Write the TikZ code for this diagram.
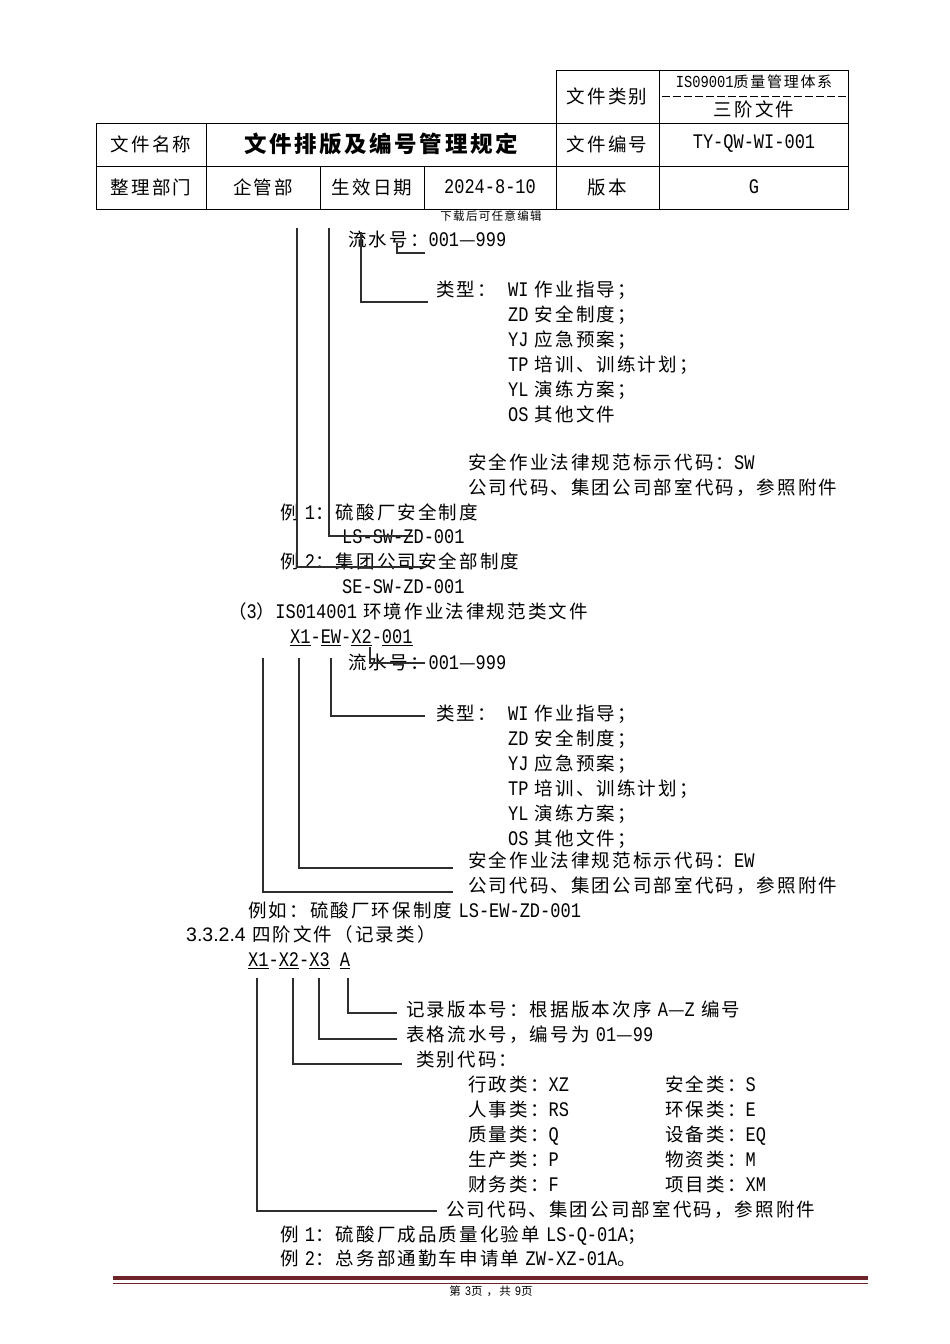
\documentclass[tikz,border=0pt]{standalone}
\usepackage{fontspec}
\setmainfont{Noto Sans CJK SC}[LetterSpace=11.5]
\newfontfamily\enfont{Liberation Mono}[Scale=1.12, FakeStretch=0.82]
\newfontfamily\numfont{Liberation Sans}
\usepackage{tikz}
\usetikzlibrary{positioning}
\definecolor{footred}{HTML}{6E2429}
\definecolor{leadgray}{HTML}{2E2E2E}
\newcommand\asc[1]{{\enfont #1}}
\tikzset{
  cell/.style ={inner sep=0pt, align=center},
  txt/.style  ={anchor=west, inner sep=0pt, text height=16pt, text depth=2.5pt},
  grid/.style ={line width=0.9pt},
  lead/.style ={line width=1.3pt, draw=leadgray},
  tiny/.style ={font=\fontsize{11.5}{13}\selectfont},
}

\begin{document}
\begin{tikzpicture}[x=1pt, y=-1pt, font=\fontsize{18.5}{20}\selectfont]
\fill[white] (0,0) rectangle (950,1344);
\useasboundingbox (0,0) rectangle (950,1344);

% header table
\draw[grid] (556,70) rectangle (848,123);
\draw[grid] (96,123) rectangle (848,209);
\draw[grid] (96,166) -- (848,166);
\draw[grid] (659,70) -- (659,209);
\draw[grid] (556,123) -- (556,209);
\draw[grid] (206,123) -- (206,209);
\draw[grid] (320,166) -- (320,209);
\draw[grid] (424,166) -- (424,209);
\draw[grid, dash pattern=on 8pt off 3pt] (662,96) -- (848,96);

\node[cell] (kind) at (607,96) {文件类别};
\node[cell, font=\fontsize{15}{17}\selectfont] (sys) at (754,82) {\asc{IS09001}质量管理体系};
\node[cell] (lvl) at (754,109) {三阶文件};
\node[cell] (fname) at (151,144) {文件名称};
\node[cell, font=\fontsize{22.5}{24}\selectfont\bfseries] (title) at (381,144) {文件排版及编号管理规定};
\node[cell] (fno) at (607,144) {文件编号};
\node[cell] (fnov) at (754,144) {\asc{TY-QW-WI-001}};
\node[cell] (dept) at (151,187) {整理部门};
\node[cell] (deptv) at (263,187) {企管部};
\node[cell] (eff) at (372,187) {生效日期};
\node[cell] (effv) at (490,187) {\asc{2024-8-10}};
\node[cell] (ver) at (607,187) {版本};
\node[cell] (verv) at (754,187) {\asc{G}};
\node[cell, tiny] (note) at (491,216) {下载后可任意编辑};

% continued from previous page
\node[txt] (flow1) at (348,240) {流水号：\asc{001}—\asc{999}};
\node[txt] (typ1) at (436,290) {类型：};
\node[txt] (wi1) at (508,290) {\asc{WI} 作业指导；};
\node[txt, below=6pt of wi1.south west, anchor=north west] (zd1) {\asc{ZD} 安全制度；};
\node[txt, below=6pt of zd1.south west, anchor=north west] (yj1) {\asc{YJ} 应急预案；};
\node[txt, below=6pt of yj1.south west, anchor=north west] (tp1) {\asc{TP} 培训、训练计划；};
\node[txt, below=6pt of tp1.south west, anchor=north west] (yl1) {\asc{YL} 演练方案；};
\node[txt, below=6pt of yl1.south west, anchor=north west] (os1) {\asc{OS} 其他文件};
\node[txt] (sw1) at (468,463) {安全作业法律规范标示代码：\asc{SW}};
\node[txt, below=6pt of sw1.south west, anchor=north west] (co1) {公司代码、集团公司部室代码，参照附件};
\node[txt] (ex1a) at (280,513) {例 \asc{1}：硫酸厂安全制度};
\node[txt] (ex1b) at (342,537) {\asc{LS-SW-ZD-001}};
\node[txt] (ex2a) at (280,562) {例 \asc{2}：集团公司安全部制度};
\node[txt] (ex2b) at (342,587) {\asc{SE-SW-ZD-001}};

\coordinate (a1) at (297,228);
\coordinate (a1e) at (425,567);
\coordinate (a2) at (329,228);
\coordinate (a2e) at (413,536);
\coordinate (a3) at (361,232);
\coordinate (a4) at (397,243);
\coordinate (a4e) at (425,253);
\draw[lead] (a1) |- (a1e);
\draw[lead] (a2) |- (a2e);
\draw[lead] (a3) |- ([shift={(-8pt,-12pt)}]typ1.west);
\draw[lead] (a4) |- (a4e);

% (3) ISO14001
\node[txt] (sec3) at (228,612) {（\asc{3}）\asc{IS014001} 环境作业法律规范类文件};
\node[txt] (code2) at (290,637) {\asc{\underline{X1}-\underline{EW}-\underline{X2}-\underline{001}}};
\node[txt] (flow2) at (348,663) {流水号：\asc{001}—\asc{999}};
\node[txt] (typ2) at (436,714) {类型：};
\node[txt] (wi2) at (508,714) {\asc{WI} 作业指导；};
\node[txt, below=6pt of wi2.south west, anchor=north west] (zd2) {\asc{ZD} 安全制度；};
\node[txt, below=6pt of zd2.south west, anchor=north west] (yj2) {\asc{YJ} 应急预案；};
\node[txt, below=6pt of yj2.south west, anchor=north west] (tp2) {\asc{TP} 培训、训练计划；};
\node[txt, below=6pt of tp2.south west, anchor=north west] (yl2) {\asc{YL} 演练方案；};
\node[txt, below=6pt of yl2.south west, anchor=north west] (os2) {\asc{OS} 其他文件；};
\node[txt] (sw2) at (468,861) {安全作业法律规范标示代码：\asc{EW}};
\node[txt, below=6pt of sw2.south west, anchor=north west] (co2) {公司代码、集团公司部室代码，参照附件};
\node[txt] (ex3) at (248,911) {例如：硫酸厂环保制度 \asc{LS-EW-ZD-001}};

\coordinate (b1) at (263,658);
\coordinate (b2) at (299,658);
\coordinate (b3) at (331,658);
\coordinate (b4) at (370,647);
\coordinate (b4e) at (425,663);
\draw[lead] (b1) |- ([shift={(-15pt,-6pt)}]co2.west);
\draw[lead] (b2) |- ([shift={(-15pt,-7pt)}]sw2.west);
\draw[lead] (b3) |- ([shift={(-11pt,-2pt)}]typ2.west);
\draw[lead] (b4) |- (b4e);

% 3.3.2.4
\node[txt] (sec4) at (186,935) {{\numfont\fontsize{19.5}{20}\selectfont 3.3.2.4} 四阶文件（记录类）};
\node[txt] (code3) at (248,960) {\asc{\underline{X1}-\underline{X2}-\underline{X3} \underline{A}}};
\node[txt] (rev) at (406,1010) {记录版本号：根据版本次序 \asc{A}—\asc{Z} 编号};
\node[txt] (form) at (406,1035) {表格流水号，编号为 \asc{01}—\asc{99}};
\node[txt] (cat) at (416,1060) {类别代码：};
\node[txt] (xz) at (468,1085) {行政类：\asc{XZ}};
\node[txt, below=6pt of xz.south west, anchor=north west] (rs) {人事类：\asc{RS}};
\node[txt, below=6pt of rs.south west, anchor=north west] (qq) {质量类：\asc{Q}};
\node[txt, below=6pt of qq.south west, anchor=north west] (pp) {生产类：\asc{P}};
\node[txt, below=6pt of pp.south west, anchor=north west] (ff) {财务类：\asc{F}};
\node[txt] (ss) at (665,1085) {安全类：\asc{S}};
\node[txt, below=6pt of ss.south west, anchor=north west] (ee) {环保类：\asc{E}};
\node[txt, below=6pt of ee.south west, anchor=north west] (eq) {设备类：\asc{EQ}};
\node[txt, below=6pt of eq.south west, anchor=north west] (mm) {物资类：\asc{M}};
\node[txt, below=6pt of mm.south west, anchor=north west] (xm) {项目类：\asc{XM}};
\node[txt] (co3) at (446,1210) {公司代码、集团公司部室代码，参照附件};
\node[txt] (ex4) at (280,1235) {例 \asc{1}：硫酸厂成品质量化验单 \asc{LS-Q-01A}；};
\node[txt] (ex5) at (280,1259) {例 \asc{2}：总务部通勤车申请单 \asc{ZW-XZ-01A}。};

\coordinate (c1) at (257,978);
\coordinate (c2) at (293,978);
\coordinate (c3) at (319,978);
\coordinate (c4) at (348,978);
\draw[lead] (c1) |- ([shift={(-9pt,-1pt)}]co3.west);
\draw[lead] (c2) |- ([shift={(-14pt,-4pt)}]cat.west);
\draw[lead] (c3) |- ([shift={(-9pt,-4pt)}]form.west);
\draw[lead] (c4) |- ([shift={(-9pt,-3pt)}]rev.west);

% footer
\draw[footred, line width=4pt] (113,1278) -- (868,1278);
\draw[footred, line width=0.9pt] (113,1283.5) -- (868,1283.5);
\node[cell, tiny] (page) at (491,1291) {第 \asc{3}页 ，共 \asc{9}页};
\end{tikzpicture}
\end{document}
